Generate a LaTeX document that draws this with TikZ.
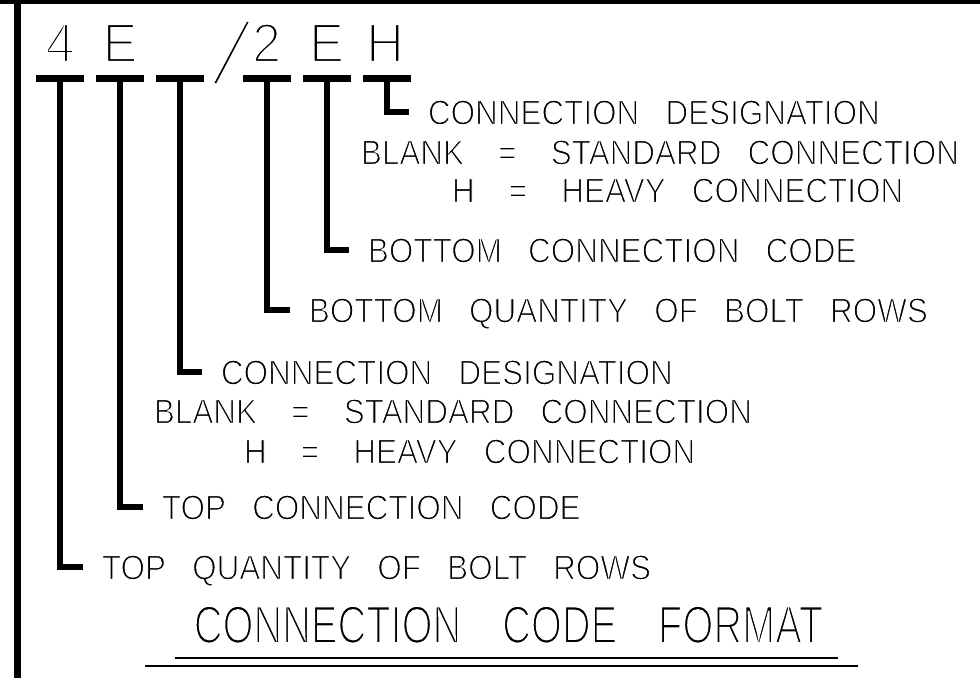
\documentclass[tikz,border=0pt]{standalone}
\usepackage{graphicx}
\usepackage{fontspec}
\setmainfont{Liberation Sans}
\newfontfamily\lblfont[FakeStretch=0.9,WordSpace=3]{Liberation Sans}
\newfontfamily\ttlfont[FakeStretch=0.75,WordSpace=3.7]{Liberation Sans}
\newfontfamily\codefont[FakeStretch=0.95]{Liberation Sans}
\usetikzlibrary{calc}
% thin the strokes of the letters (white outline over black fill)
\newcommand\thinon[1]{\special{pdf:bcontent}\special{pdf:literal direct 2 Tr 1 G #1 w}}
\newcommand\thinoff{\special{pdf:econtent}}
\newcommand\eqs{\hspace{6pt}=\hspace{6pt}}

\begin{document}
\begin{tikzpicture}[x=0.75pt,y=-0.75pt,
  lbl/.style={inner xsep=14pt,inner ysep=0pt,anchor=west,text height=18.75pt,
    text depth=0pt,font=\lblfont\fontsize{26.2}{30}\selectfont,
    execute at begin node={\thinon{0.8}},execute at end node={\thinoff}},
  code/.style={inner sep=0pt,anchor=base,font=\codefont\fontsize{41.4}{46}\selectfont,
    execute at begin node={\thinon{1.8}},execute at end node={\thinoff}},
  ttl/.style={inner sep=0pt,text height=28.5pt,text depth=0pt,
    font=\ttlfont\fontsize{39.8}{44}\selectfont,
    execute at begin node={\thinon{1.3}},execute at end node={\thinoff}},
  bar/.style={line width=5.6pt},
  lead/.style={line width=5.2pt},
  uline/.style={line width=1.5pt}]

\useasboundingbox (0,0) rectangle (980,678);

% frame
\draw[line width=3pt] (0,2) -- (980,2);
\draw[line width=5.25pt] (17.5,0) -- (17.5,678);

% the code
\node[code] (c1) at (60,62) {4};
\node[code] (c2) at (120,62) {E};
\node[code,anchor=center,font=\codefont\fontsize{74}{76}\selectfont,
  execute at begin node={\thinon{3.9}}] (sl) at (231.5,52.5) {\rotatebox{-13.4}{/}};
\node[code] (c4) at (266.5,62) {2};
\node[code] (c5) at (326.5,62) {E};
\node[code] (c6) at (385,62) {H};

\coordinate (b1) at (60,78.5);
\coordinate (b2) at (120,78.5);
\coordinate (b3) at (180,78.5);
\coordinate (b4) at (267,78.5);
\coordinate (b5) at (327,78.5);
\coordinate (b6) at (387,78.5);

% labels
\node[lbl] (l6) at (409,112) {CONNECTION DESIGNATION};
\node[lbl] (l6b) at (342,152) {BLANK \eqs{} STANDARD CONNECTION};
\node[lbl] (l6c) at (433,190) {H \eqs{} HEAVY CONNECTION};
\node[lbl] (l5) at (349,250) {BOTTOM CONNECTION CODE};
\node[lbl] (l4) at (290,310) {BOTTOM QUANTITY OF BOLT ROWS};
\node[lbl] (l3) at (202,372) {CONNECTION DESIGNATION};
\node[lbl] (l3b) at (135,411) {BLANK \eqs{} STANDARD CONNECTION};
\node[lbl] (l3c) at (225,451) {H \eqs{} HEAVY CONNECTION};
\node[lbl] (l2) at (143,507) {TOP CONNECTION CODE};
\node[lbl] (l1) at (83,567) {TOP QUANTITY OF BOLT ROWS};

% leaders
\draw[bar] ($(b1)+(-24,0)$) -- ($(b1)+(24,0)$);
\draw[bar] ($(b2)+(-24,0)$) -- ($(b2)+(24,0)$);
\draw[bar] ($(b3)+(-24,0)$) -- ($(b3)+(24,0)$);
\draw[bar] ($(b4)+(-24,0)$) -- ($(b4)+(24,0)$);
\draw[bar] ($(b5)+(-24,0)$) -- ($(b5)+(24,0)$);
\draw[bar] ($(b6)+(-24,0)$) -- ($(b6)+(24,0)$);

\draw[lead] (b1) |- (l1.west);
\draw[lead] (b2) |- (l2.west);
\draw[lead] (b3) |- (l3.west);
\draw[lead] (b4) |- (l4.west);
\draw[lead] (b5) |- (l5.west);
\draw[lead] (b6) |- (l6.west);

% title
\node[ttl] (ttl) at (508.5,624) {CONNECTION CODE FORMAT};
\draw[uline] (175,658) -- (838,658);
\draw[uline] (145,666) -- (858,666);
\end{tikzpicture}
\end{document}
